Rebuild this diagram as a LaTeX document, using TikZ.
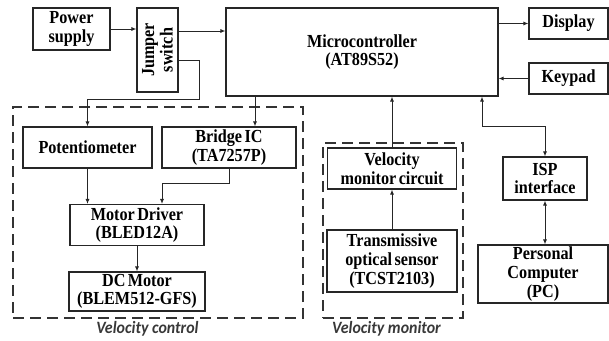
\documentclass[tikz,border=0pt]{standalone}
\usepackage{fontspec}
\setmainfont{Liberation Serif}
\newfontfamily\blockfont{Liberation Serif}[WordSpace=0.6, FakeStretch=0.88]
\newfontfamily\labelfont{Carlito}[FakeStretch=0.92]
\usetikzlibrary{arrows.meta}

\begin{document}
\begin{tikzpicture}[x=1pt,y=-1pt,
  blk/.style={draw=black!85, line width=1.1pt, rectangle, inner sep=0pt, align=center,
    font=\blockfont\fontsize{18.4}{18.6}\selectfont\bfseries},
  wire/.style={draw=black!85, line width=0.9pt},
  arr/.style={wire, -{Latex[length=5pt,width=4pt]}},
  barr/.style={wire, {Latex[length=5pt,width=4pt]}-{Latex[length=5pt,width=4pt]}},
  group/.style={draw=black!80, line width=1.8pt, dash pattern=on 11pt off 6pt, rectangle, inner sep=0pt},
  grouplabel/.style={font=\labelfont\fontsize{17.3}{18}\selectfont\bfseries\itshape, text=black!78}
]
\useasboundingbox (0,0) rectangle (609,340);

% dashed subsystem frames
\node[group, minimum width=290, minimum height=211] (vctrl) at (158,212.5) {};
\node[group, minimum width=140, minimum height=175] (vmon) at (393,230.5) {};
\node[grouplabel] (vctrllbl) at (147.5,329) {Velocity control};
\node[grouplabel] (vmonlbl) at (386.5,329) {Velocity monitor};

% blocks
\node[blk, minimum width=77, minimum height=42] (power) at (71.5,29) {Power\\supply};
\node[blk, minimum width=41, minimum height=84] (jumper) at (157.5,50) {};
\node[rotate=90, align=center, font=\blockfont\fontsize{18.4}{18.6}\selectfont\bfseries] (jumpertxt) at (jumper) {Jumper\\switch};
\node[blk, minimum width=272, minimum height=88] (micro) at (362,52) {Microcontroller\\(AT89S52)};
\node[blk, minimum width=79, minimum height=31] (display) at (568.5,23.5) {Display};
\node[blk, minimum width=79, minimum height=31] (keypad) at (568.5,78.5) {Keypad};
\node[blk, minimum width=129, minimum height=41] (pot) at (87.5,147.5) {Potentiometer};
\node[blk, minimum width=134, minimum height=41] (bridge) at (229,147.5) {Bridge IC\\(TA7257P)};
\node[blk, minimum width=134, minimum height=41] (md) at (137,225) {Motor Driver\\(BLED12A)};
\node[blk, minimum width=136, minimum height=39] (dc) at (137,291.5) {DC Motor\\(BLEM512-GFS)};
\node[blk, minimum width=129, minimum height=41] (velc) at (392,168.5) {Velocity\\monitor circuit};
\node[blk, minimum width=130, minimum height=62] (trans) at (392,261) {Transmissive\\optical sensor\\(TCST2103)};
\node[blk, minimum width=84, minimum height=43] (isp) at (545,178.5) {ISP\\interface};
\node[blk, minimum width=130, minimum height=58] (pc) at (543,274) {Personal\\Computer\\(PC)};

% connectors
\draw[arr] (power.east) -- (power.east -| jumper.west);
\draw[arr] (jumper.east |- 0,31) -- (micro.west |- 0,31);
\draw[arr] (jumper.east |- 0,60) -| (199,99) -| (pot.north);
\draw[arr] (micro.south -| 255,0) -- (bridge.north -| 255,0);
\draw[arr] (micro.east |- display) -- (display.west);
\draw[arr] (keypad.west) -- (keypad.west -| micro.east);
\draw[arr] (velc.north) -- (velc.north |- micro.south);
\draw[arr] (trans.north) -- (velc.south);
\draw[barr] (micro.south -| 482,0) -- (482,126) -| (isp.north);
\draw[barr] (isp.south) -- (isp.south |- pc.north);
\draw[arr] (pot.south) -- (pot.south |- md.north);
\draw[arr] (bridge.south) -- (229,183) -| (md.north -| 162,0);
\draw[arr] (md.south) -- (dc.north);
\end{tikzpicture}
\end{document}
